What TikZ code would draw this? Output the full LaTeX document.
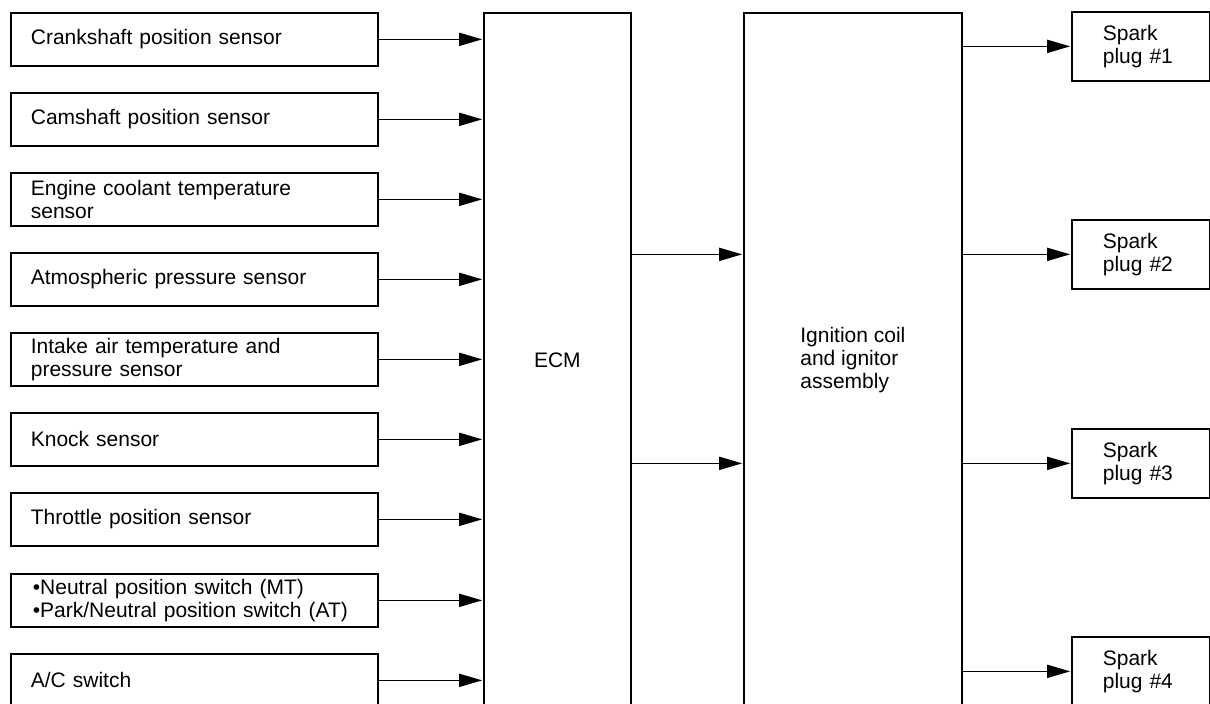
\documentclass[tikz,border=0pt]{standalone}
\usepackage{fontspec}
\setmainfont{Liberation Sans}
\usetikzlibrary{arrows.meta}
\tikzset{
  x=1pt, y=-1pt,
  every node/.style={font=\fontsize{21}{23}\selectfont},
  sensor/.style={draw, line width=1.7pt, anchor=north west, rectangle,
    text width=327pt, inner xsep=20pt, inner ysep=0pt, minimum height=53pt, align=left},
  plug/.style={draw, line width=1.7pt, anchor=north west, rectangle,
    text width=76pt, inner xsep=31pt, inner ysep=0pt, minimum height=69pt, align=left},
  bigbox/.style={draw, line width=1.7pt, anchor=north west, rectangle,
    inner sep=0pt, minimum height=694pt},
  conn/.style={line width=1.7pt, -{Triangle[length=23pt,width=13pt]}, shorten >=0.8pt}
}
\begin{document}
\begin{tikzpicture}
\useasboundingbox (0,0) rectangle (1210,704);
\clip (0,0) rectangle (1210,704);
\fill[white] (0,0) rectangle (1210,704);

\node[sensor] (s1) at (10,12) {Crankshaft position sensor};
\node[sensor] (s2) at (10,92) {Camshaft position sensor};
\node[sensor] (s3) at (10,172) {Engine coolant temperature\\sensor};
\node[sensor] (s4) at (10,252) {Atmospheric pressure sensor};
\node[sensor] (s5) at (10,332) {Intake air temperature and\\pressure sensor};
\node[sensor] (s6) at (10,412) {Knock sensor};
\node[sensor] (s7) at (10,492) {Throttle position sensor};
\node[sensor] (s8) at (10,573) {\hspace*{2pt}•Neutral position switch (MT)\\\hspace*{2pt}•Park/Neutral position switch (AT)};
\node[sensor] (s9) at (10,653) {A/C switch};

\node[bigbox, minimum width=147pt] (ecm) at (483,12) {ECM};
\node[bigbox, minimum width=218pt, align=left] (ign) at (743,12) {Ignition coil\\and ignitor\\assembly};

\node[plug] (p1) at (1071,11) {Spark\\plug \#1};
\node[plug] (p2) at (1071,219) {Spark\\plug \#2};
\node[plug] (p3) at (1071,428) {Spark\\plug \#3};
\node[plug] (p4) at (1071,636) {Spark\\plug \#4};

\foreach \s in {s1,s2,s3,s4,s5,s6,s7,s8,s9}
  \draw[conn] (\s.east) -- (\s.east -| ecm.west);

\draw[conn] (ecm.east |- p2.west) -- (ign.west |- p2.west);
\draw[conn] (ecm.east |- p3.west) -- (ign.west |- p3.west);

\foreach \p in {p1,p2,p3,p4}
  \draw[conn] (ign.east |- \p.west) -- (\p.west);
\end{tikzpicture}
\end{document}
